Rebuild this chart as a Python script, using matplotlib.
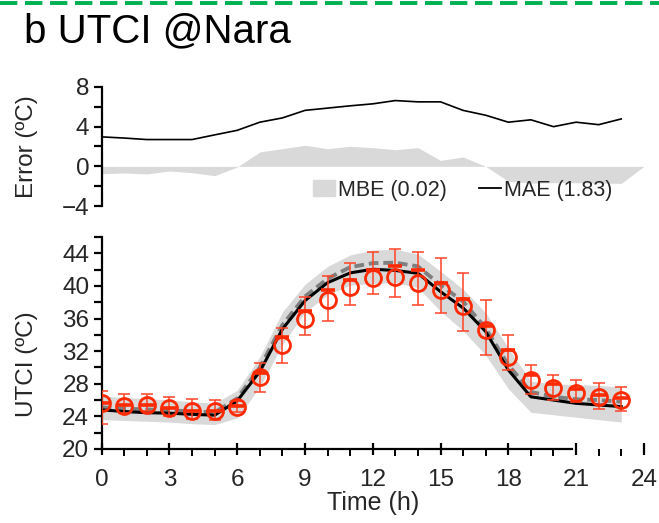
import matplotlib
matplotlib.use('Agg')
import matplotlib.pyplot as plt
from matplotlib.lines import Line2D
from matplotlib.patches import Patch
from matplotlib.ticker import MultipleLocator

plt.rcParams['font.family'] = ['Liberation Sans', 'DejaVu Sans']
plt.rcParams['lines.scale_dashes'] = False
TXT = '#262626'
RED = '#ff2a00'

# === Panel superior: erro ===
hours_err = list(range(25))
mbe = [-0.74, -0.67, -0.77, -0.47, -0.64, -0.94, -0.07, 1.45, 1.78, 2.12, 1.78, 2.02, 1.88,
       1.68, 1.88, 0.6, 0.94, 0.0, -1.5, -1.7, -1.65, -1.65, -1.68, -1.72, 0.0]
hours = list(range(24))
mae = [2.97, 2.85, 2.7, 2.7, 2.7, 3.17, 3.63, 4.45, 4.88, 5.64, 5.87, 6.1, 6.3,
       6.63, 6.5, 6.5, 5.64, 5.15, 4.45, 4.69, 4.0, 4.45, 4.2, 4.78]

# === Panel inferior: UTCI ===
obs = [25.7, 25.3, 25.4, 25.0, 24.7, 24.6, 25.2, 28.8, 32.8, 36.0, 38.3, 39.9, 41.0,
       41.15, 40.4, 39.5, 37.5, 34.6, 31.3, 28.5, 27.5, 26.9, 26.35, 26.0]
obs_hi = [27.15, 26.8, 26.8, 26.4, 26.1, 26.0, 25.9, 30.6, 34.9, 38.7, 41.2, 42.8, 44.2,
          44.5, 44.2, 43.4, 41.55, 38.3, 34.0, 30.3, 29.1, 28.5, 28.05, 27.65]
obs_lo = [23.1, 24.4, 24.6, 24.0, 23.7, 23.5, 24.5, 27.0, 30.6, 34.0, 35.7, 37.7, 39.0,
          38.7, 37.7, 36.65, 34.5, 31.5, 29.7, 26.8, 26.0, 25.8, 24.9, 24.65]
obs_med = [25.7, 25.4, 25.4, 25.0, 24.7, 24.6, 25.3, 29.3, 33.7, 36.9, 39.5, 40.7, 42.0,
           42.4, 41.9, 40.3, 38.4, 35.1, 32.1, 29.1, 28.0, 27.4, 26.6, 26.3]
sim = [24.8, 24.6, 24.45, 24.4, 24.25, 24.15, 25.9, 29.5, 34.7, 38.2, 40.4, 41.6, 42.05,
       41.9, 41.55, 39.3, 37.3, 34.4, 29.7, 26.4, 26.0, 25.6, 25.4, 25.2]
sim_mean = [25.1, 24.95, 24.85, 24.75, 24.6, 24.5, 26.2, 30.0, 35.2, 38.7, 40.9, 42.3, 42.8,
            42.85, 42.4, 40.1, 38.1, 34.8, 30.3, 27.0, 26.4, 26.1, 26.0, 25.8]
band_hi = [26.5, 26.3, 26.2, 26.0, 25.8, 25.6, 27.2, 31.3, 36.8, 40.2, 42.4, 43.8, 44.4,
           44.5, 43.9, 41.8, 39.6, 36.7, 32.4, 28.3, 28.0, 27.9, 27.8, 27.6]
band_lo = [23.6, 23.5, 23.4, 23.3, 23.1, 23.0, 23.8, 27.6, 32.8, 36.8, 38.9, 40.1, 40.3,
           40.4, 39.8, 36.9, 34.5, 31.5, 27.4, 24.5, 24.2, 23.9, 23.6, 23.3]

fig = plt.figure(figsize=(6.59, 5.23), dpi=100)
L, W = 0.1543, 0.8227
ax1 = fig.add_axes([L, 0.6061, W, 0.2276])
ax2 = fig.add_axes([L, 0.1415, W, 0.4053])

fig.text(0.036, 0.941, 'b UTCI @Nara', fontsize=29, color='black', va='center', ha='left')
fig.add_artist(Line2D([0, 1], [0.994, 0.994], transform=fig.transFigure,
                      color='#00b050', lw=2.8, dashes=(12.5, 5.5)))

# --- topo ---
ax1.fill_between(hours_err, 0, mbe, color='#d9d9d9', lw=0)
ax1.plot(hours, mae, color='black', lw=1.2)
ax1.set_xlim(0, 24)
ax1.set_ylim(-4, 8)
ax1.yaxis.set_major_locator(MultipleLocator(4))
ax1.yaxis.set_minor_locator(MultipleLocator(2))
for s in ['top', 'right', 'bottom']:
    ax1.spines[s].set_visible(False)
ax1.spines['left'].set_linewidth(1.6)
ax1.set_xticks([])
ax1.tick_params(axis='y', which='both', length=6, width=1.6, labelsize=17.5, labelcolor=TXT, pad=3)
ax1.set_ylabel('Error (ºC)', fontsize=17.5, color=TXT)
ax1.yaxis.set_label_coords(-0.118, 0.5)
h = [Patch(color='#d9d9d9'), Line2D([], [], color='black', lw=1.3)]
ax1.legend(h, ['MBE (0.02)', 'MAE (1.83)'], ncol=2, frameon=False, fontsize=15.5,
           loc='center left', bbox_to_anchor=(0.39, 0.134), borderaxespad=0, borderpad=0,
           handlelength=1.0, handletextpad=0.15, columnspacing=1.5, labelcolor=TXT)

# --- inferior ---
ax2.fill_between(hours, band_lo, band_hi, color='#d9d9d9', lw=0, zorder=1)
ax2.plot(hours, sim_mean, color='#7f7f7f', lw=2.8, dashes=(7, 3.5), zorder=2)
ax2.plot(hours, sim, color='black', lw=2.2, zorder=3)
yerr = [[o - lo for o, lo in zip(obs, obs_lo)], [hi - o for o, hi in zip(obs, obs_hi)]]
ax2.errorbar(hours, obs, yerr=yerr, fmt='none', ecolor='#ff4326', elinewidth=1.1,
             capsize=4, capthick=1.1, zorder=4)
ax2.plot(hours, obs_med, ls='none', marker='_', ms=9.5, mew=2.6, color=RED, zorder=5)
ax2.plot(hours, obs, ls='none', marker='o', ms=11.5, mfc='none', mec=RED, mew=2.0, zorder=6)

ax2.set_xlim(0, 24)
ax2.set_ylim(20, 46)
ax2.xaxis.set_major_locator(MultipleLocator(3))
ax2.xaxis.set_minor_locator(MultipleLocator(1))
ax2.yaxis.set_minor_locator(MultipleLocator(2))
ax2.set_yticks([20, 24, 28, 32, 36, 40, 44])
for s in ['top', 'right']:
    ax2.spines[s].set_visible(False)
ax2.spines['left'].set_linewidth(1.6)
ax2.spines['bottom'].set_linewidth(1.6)
ax2.spines['bottom'].set_bounds(0, 20.8)
ax2.tick_params(axis='y', which='both', length=6, width=1.6, labelsize=17.5, labelcolor=TXT, pad=3)
ax2.tick_params(axis='x', which='major', direction='inout', length=9, width=1.6,
                labelsize=17.5, labelcolor=TXT, pad=10)
ax2.tick_params(axis='x', which='minor', direction='out', length=5, width=1.4)
ax2.set_ylabel('UTCI (ºC)', fontsize=17.5, color=TXT)
ax2.yaxis.set_label_coords(-0.118, 0.40)
ax2.set_xlabel('Time (h)', fontsize=18, color=TXT, labelpad=0)

plt.savefig('out.png', dpi=100)
plt.close()
